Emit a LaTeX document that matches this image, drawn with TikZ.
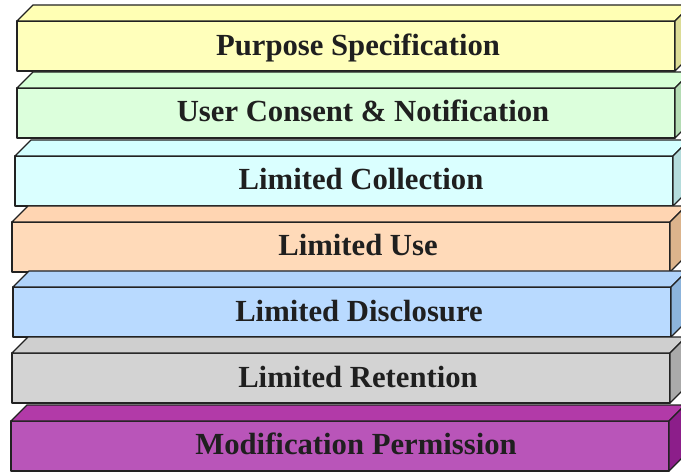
\documentclass[tikz,border=0pt]{standalone}
\usepackage{fontspec}
\setmainfont{Liberation Serif}
\usetikzlibrary{positioning,calc}

% layer colours (front, top, side)
\definecolor{purFront}{HTML}{FFFFBB}
\definecolor{purTop}{HTML}{FFFFB4}
\definecolor{purSide}{HTML}{DCDC96}
\definecolor{conFront}{HTML}{DCFFDC}
\definecolor{conTop}{HTML}{D6FFD6}
\definecolor{conSide}{HTML}{B4DCB4}
\definecolor{colFront}{HTML}{DAFFFF}
\definecolor{colTop}{HTML}{D4FFFF}
\definecolor{colSide}{HTML}{B4DCDC}
\definecolor{useFront}{HTML}{FFDAB9}
\definecolor{useTop}{HTML}{FFD5B2}
\definecolor{useSide}{HTML}{DCB48C}
\definecolor{disFront}{HTML}{B9DAFF}
\definecolor{disTop}{HTML}{B0D3FA}
\definecolor{disSide}{HTML}{8CB4DC}
\definecolor{retFront}{HTML}{D3D3D3}
\definecolor{retTop}{HTML}{CFCFCF}
\definecolor{retSide}{HTML}{AAAAAA}
\definecolor{modFront}{HTML}{B955B9}
\definecolor{modTop}{HTML}{B23AA8}
\definecolor{modSide}{HTML}{8C1E8A}
\definecolor{edge}{HTML}{222222}

\begin{document}
\begin{tikzpicture}[x=1bp, y=-1bp,
        face/.style={draw=edge, line width=1.3bp, line join=round},
        front/.style={face, rectangle, anchor=north west, inner sep=0pt, outer sep=0pt,
            minimum width=658bp, minimum height=50bp},
        caption/.style={anchor=base, text=black!88,
            font=\fontsize{30.8}{36}\selectfont\bfseries}]
        \useasboundingbox (0,0) rectangle (681,472);
        \clip (0,0) rectangle (681,472);

        % Purpose Specification
        \node[front, fill=purFront] (pur) at (17,21) {};
        \draw[face, fill=purTop] (pur.north west) -- ++(16,-16) -- ++(658,0) -- (pur.north east) -- cycle;
        \draw[face, fill=purSide] (pur.north east) -- ++(16,-16) -- ++(0,50) -- (pur.south east) -- cycle;
        \node[caption] (purText) at ([xshift=12bp, yshift=-10bp]pur.center) {Purpose Specification};

        % User Consent & Notification
        \node[front, fill=conFront] (con) at (17,88) {};
        \draw[face, fill=conTop] (con.north west) -- ++(16,-16) -- ++(658,0) -- (con.north east) -- cycle;
        \draw[face, fill=conSide] (con.north east) -- ++(16,-16) -- ++(0,50) -- (con.south east) -- cycle;
        \node[caption] (conText) at ([xshift=17bp, yshift=-9bp]con.center) {User Consent \& Notification};

        % Limited Collection
        \node[front, fill=colFront] (col) at (15,156) {};
        \draw[face, fill=colTop] (col.north west) -- ++(16,-16) -- ++(658,0) -- (col.north east) -- cycle;
        \draw[face, fill=colSide] (col.north east) -- ++(16,-16) -- ++(0,50) -- (col.south east) -- cycle;
        \node[caption] (colText) at ([xshift=17bp, yshift=-9bp]col.center) {Limited Collection};

        % Limited Use
        \node[front, fill=useFront] (use) at (12,222) {};
        \draw[face, fill=useTop] (use.north west) -- ++(16,-16) -- ++(658,0) -- (use.north east) -- cycle;
        \draw[face, fill=useSide] (use.north east) -- ++(16,-16) -- ++(0,50) -- (use.south east) -- cycle;
        \node[caption] (useText) at ([xshift=17bp, yshift=-9bp]use.center) {Limited Use};

        % Limited Disclosure
        \node[front, fill=disFront] (dis) at (13,287) {};
        \draw[face, fill=disTop] (dis.north west) -- ++(16,-16) -- ++(658,0) -- (dis.north east) -- cycle;
        \draw[face, fill=disSide] (dis.north east) -- ++(16,-16) -- ++(0,50) -- (dis.south east) -- cycle;
        \node[caption] (disText) at ([xshift=17bp, yshift=-9bp]dis.center) {Limited Disclosure};

        % Limited Retention
        \node[front, fill=retFront] (ret) at (12,353) {};
        \draw[face, fill=retTop] (ret.north west) -- ++(16,-16) -- ++(658,0) -- (ret.north east) -- cycle;
        \draw[face, fill=retSide] (ret.north east) -- ++(16,-16) -- ++(0,50) -- (ret.south east) -- cycle;
        \node[caption] (retText) at ([xshift=17bp, yshift=-9bp]ret.center) {Limited Retention};

        % Modification Permission
        \node[front, fill=modFront] (mod) at (11,421) {};
        \draw[face, fill=modTop] (mod.north west) -- ++(16,-16) -- ++(658,0) -- (mod.north east) -- cycle;
        \draw[face, fill=modSide] (mod.north east) -- ++(16,-16) -- ++(0,50) -- (mod.south east) -- cycle;
        \node[caption] (modText) at ([xshift=16bp, yshift=-8bp]mod.center) {Modification Permission};
    \end{tikzpicture}
\end{document}
